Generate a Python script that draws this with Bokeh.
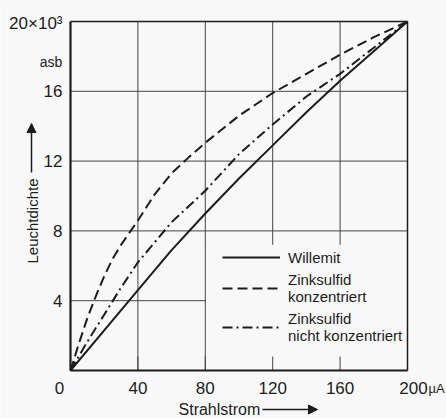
import numpy as np
from bokeh.plotting import figure
from bokeh.models import Range1d, Label, Arrow, NormalHead, Legend, LegendItem
from bokeh.core.properties import value
from bokeh.embed import file_html
from bokeh.resources import INLINE

# ---- data (Strahlstrom in µA, Leuchtdichte in 10^3 asb) ----
strom_w = [0, 20, 40, 60, 80, 100, 120, 140, 160, 180, 200]
willemit = [0, 2.3, 4.6, 6.9, 9.0, 11.0, 12.9, 14.8, 16.6, 18.3, 20.0]

strom_k = [0, 5, 10, 15, 20, 25, 30, 35, 40, 50, 60, 70, 80, 100, 120, 140, 160, 180, 200]
zink_konz = [0, 1.55, 3.0, 4.25, 5.4, 6.4, 7.2, 7.9, 8.6, 10.1, 11.3, 12.2, 13.05,
             14.6, 15.9, 17.0, 18.1, 19.1, 20.0]

strom_n = [0, 10, 20, 30, 40, 60, 80, 100, 120, 140, 160, 180, 200]
zink_nicht = [0, 1.65, 3.2, 4.75, 6.2, 8.5, 10.3, 12.4, 14.1, 15.7, 17.0, 18.5, 20.0]

x_ticks = [0, 40, 80, 120, 160, 200]
x_tick_labels = ["0", "40", "80", "120", "160", "200"]
y_ticks = [4, 8, 12, 16, 20]
y_tick_labels = ["4", "8", "12", "16", "20\u00d710\u00b3"]
x_grid = [40, 80, 120, 160]
y_grid = [4, 8, 12, 16]

BG = "#f8f8f8"
INK = "#1c1c1c"
GRID = "#444444"
FONT = "Liberation Sans"

W, H = 446, 418
# frame placement in pixels (left, right, top, bottom)
FL, FR, FT, FB = 70, 407, 21, 370
x0, x1 = x_ticks[0], x_ticks[-1]
y0, y1 = 0, y_ticks[-1]
sx = (FR - FL) / (x1 - x0)
sy = (FB - FT) / (y1 - y0)

p = figure(width=W, height=H, output_backend="svg", toolbar_location=None,
           x_range=Range1d(x0 - FL / sx, x0 + (W - FL) / sx),
           y_range=Range1d(y0 - (H - FB) / sy, y0 + FB / sy),
           x_axis_location=None, y_axis_location=None,
           min_border=0)
p.background_fill_color = BG
p.border_fill_color = BG
p.outline_line_color = None
p.xgrid.visible = False
p.ygrid.visible = False

# grid
p.segment(x0=x_grid, y0=y0, x1=x_grid, y1=y1, line_color=GRID, line_width=1)
p.segment(x0=x0, y0=y_grid, x1=x1, y1=y_grid, line_color=GRID, line_width=1)
# legend area blanks the grid
p.quad(left=x_grid[1] + 0.4, right=x1, bottom=y0, top=7.2,
       fill_color=BG, line_color=None)
# inward ticks at the bottom
p.segment(x0=x_ticks, y0=y0, x1=x_ticks, y1=0.8, line_color=GRID, line_width=1)

# frame
p.segment(x0=[x0, x1], y0=[y1, y1], x1=[x1, x1], y1=[y1, y0], line_color=INK, line_width=1.5)
p.segment(x0=[x0, x0], y0=[y0, y0], x1=[x0, x1], y1=[y1, y0], line_color=INK, line_width=2.2)

# curves
r1 = p.line(strom_w, willemit, line_color=INK, line_width=2)
r2 = p.line(strom_k, zink_konz, line_color=INK, line_width=2, line_dash="10 5")
r3 = p.line(strom_n, zink_nicht, line_color=INK, line_width=2, line_dash="10 4 2 4")

# tick labels
p.text(x=x_ticks, y=-1.03, text=x_tick_labels, x_offset=[-11, 0, 0, 0, 0, 6],
       text_align="center", text_baseline="middle",
       text_font=value(FONT), text_font_size=value("17px"), text_color=INK)
p.text(x=-4.75, y=y_ticks, text=y_tick_labels, text_align="right",
       text_baseline="middle", y_offset=[0, 0, 0, 0, 2],
       text_font=value(FONT), text_font_size=value("17px"), text_color=INK)

p.add_layout(Label(x=x1, y=-1.03, x_offset=21, text="\u00b5A", text_align="left",
                   text_baseline="middle", text_font=FONT,
                   text_font_size="13px", text_color=INK))
p.add_layout(Label(x=-4.9, y=17.7, text="asb", text_align="right",
                   text_baseline="middle", text_font=FONT,
                   text_font_size="14px", text_color=INK))

# axis titles with arrows
p.add_layout(Label(x=-22.55, y=6.13, text="Leuchtdichte", angle=np.pi / 2,
                   text_align="left", text_baseline="middle", text_font=FONT,
                   text_font_size="15px", text_color=INK))
p.add_layout(Arrow(x_start=-23.15, y_start=11.35, x_end=-23.15, y_end=14.15,
                   line_color=INK, line_width=1.5,
                   end=NormalHead(size=9, fill_color=INK, line_color=INK)))
p.add_layout(Label(x=64.1, y=-2.235, text="Strahlstrom", text_align="left",
                   text_baseline="middle", text_font=FONT,
                   text_font_size="16px", text_color=INK))
p.add_layout(Arrow(x_start=113.9, y_start=-2.235, x_end=146.6, y_end=-2.235,
                   line_color=INK, line_width=1.5,
                   end=NormalHead(size=9, fill_color=INK, line_color=INK)))

# legend
legend = Legend(items=[
    LegendItem(label="Willemit", renderers=[r1]),
    LegendItem(label="Zinksulfid\nkonzentriert", renderers=[r2]),
    LegendItem(label="Zinksulfid\nnicht konzentriert", renderers=[r3]),
], location=(222, 74), padding=0, margin=0, spacing=5,
    glyph_width=58, glyph_height=18, label_standoff=8,
    label_text_font=FONT, label_text_font_size="15px", label_text_color=INK,
    background_fill_alpha=0, border_line_alpha=0)
p.add_layout(legend)

open("out.html", "w").write(file_html(p, INLINE))
